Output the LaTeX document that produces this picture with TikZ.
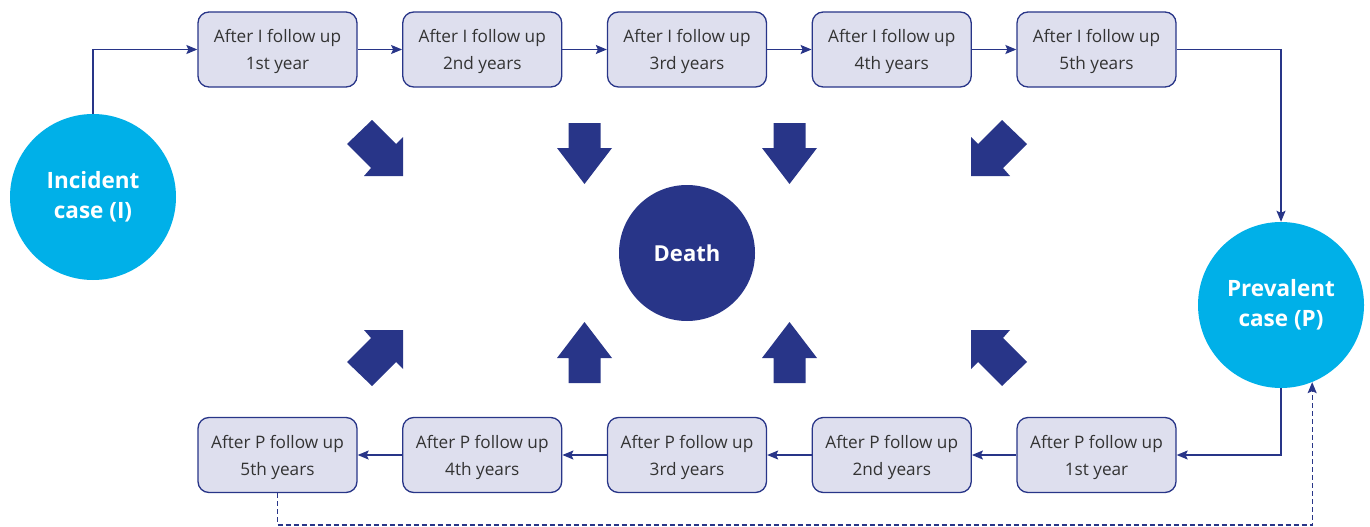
\documentclass[tikz,border=0pt]{standalone}
\usepackage{fontspec}
\setmainfont{Open Sans}
\usetikzlibrary{arrows.meta,calc}
\definecolor{navy}{HTML}{283588}
\definecolor{cyanc}{HTML}{00B0E8}
\definecolor{boxfill}{HTML}{DEDFEE}
\definecolor{txt}{HTML}{333333}
\begin{document}
\begin{tikzpicture}[x=1pt,y=-1pt,
 fbox/.style={draw=navy,line width=1.3pt,fill=boxfill,rounded corners=11pt,minimum width=159pt,minimum height=75pt,align=center,text=txt,font=\fontsize{17.2}{27}\selectfont,inner sep=0pt,text depth=0pt},
 case/.style={circle,fill=cyanc,minimum size=166pt,inner sep=0pt,align=center,text=white,font=\bfseries\fontsize{22.5}{30}\selectfont},
 conn/.style={draw=navy,line width=1.3pt,-{Stealth[length=11pt,width=9pt,inset=2pt]}},
 dconn/.style={conn,dash pattern=on 5pt off 3pt},
 big/.style={fill=navy}
]
\useasboundingbox (0,0) rectangle (1370,527);

% case circles
\node[case] (I) at (93,197) {Incident\\case (I)};
\node[case] (P) at (1281,305) {Prevalent\\case (P)};
\node[circle,fill=navy,minimum size=136pt,inner sep=0pt,text=white,font=\bfseries\fontsize{22}{24}\selectfont] (D) at (687,253) {Death};

% top row
\node[fbox] (a1) at (277.5,49.5) {After I follow up\\1st year};
\node[fbox] (a2) at (482.25,49.5) {After I follow up\\2nd years};
\node[fbox] (a3) at (687,49.5) {After I follow up\\3rd years};
\node[fbox] (a4) at (891.75,49.5) {After I follow up\\4th years};
\node[fbox] (a5) at (1096.5,49.5) {After I follow up\\5th years};

% bottom row
\node[fbox] (b1) at (1096.5,455) {After P follow up\\1st year};
\node[fbox] (b2) at (891.75,455) {After P follow up\\2nd years};
\node[fbox] (b3) at (687,455) {After P follow up\\3rd years};
\node[fbox] (b4) at (482.25,455) {After P follow up\\4th years};
\node[fbox] (b5) at (277.5,455) {After P follow up\\5th years};

% connectors
\draw[conn] (I.north) |- (a1.west);
\draw[conn] (a1.east) -- (a2.west);
\draw[conn] (a2.east) -- (a3.west);
\draw[conn] (a3.east) -- (a4.west);
\draw[conn] (a4.east) -- (a5.west);
\draw[conn] (a5.east) -| (P.north);
\draw[conn] (P.south) |- (b1.east);
\draw[conn] (b1.west) -- (b2.east);
\draw[conn] (b2.west) -- (b3.east);
\draw[conn] (b3.west) -- (b4.east);
\draw[conn] (b4.west) -- (b5.east);
\coordinate (dl) at (b5.south |- 0,525);
\coordinate (dr) at (P.-68 |- 0,525);
\draw[dconn] (b5.south) -- (dl) -- (dr) -- (P.-68);

% big arrows pointing to Death
\foreach \sx/\sy in {1/1,-1/1,1/-1,-1/-1}{
 \begin{scope}[shift={(687,253)},xscale=\sx,yscale=\sy]
  \fill[navy] (-315,-133) -- (-291,-109) -- (-284,-116) -- (-284,-77) -- (-323,-77) -- (-316,-85) -- (-340,-109) -- cycle;
  \fill[navy] (-118.5,-130) -- (-86.5,-130) -- (-86.5,-105) -- (-75,-105) -- (-102.5,-69) -- (-130,-105) -- (-118.5,-105) -- cycle;
 \end{scope}
}
\end{tikzpicture}
\end{document}
